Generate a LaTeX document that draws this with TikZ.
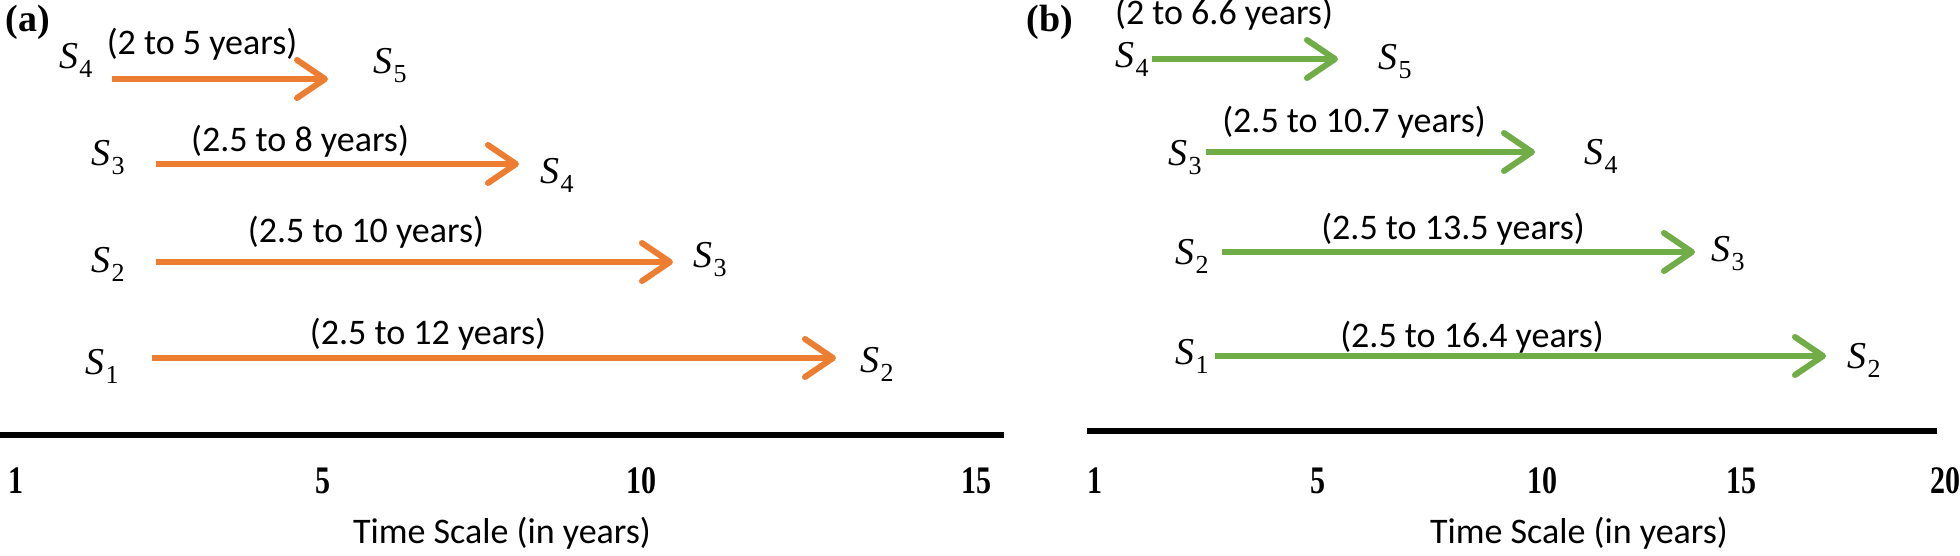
\documentclass[tikz,border=0pt]{standalone}
\usepackage{fontspec}
\usetikzlibrary{arrows.meta}
\newfontfamily\carlito{Carlito}
\newfontfamily\tnr{Liberation Serif}
\definecolor{aorange}{RGB}{237,125,49}
\definecolor{bgreen}{RGB}{112,173,71}
\newcommand{\Ss}[1]{{\tnr\itshape S}\kern1pt\raisebox{-9pt}{\tnr\fontsize{26}{28}\selectfont #1}}
\tikzset{
  lab/.style={inner sep=0pt, font=\fontsize{36}{40}\selectfont\carlito},
  snode/.style={inner sep=0pt, font=\fontsize{38}{40}\selectfont},
  panel/.style={inner sep=0pt, font=\fontsize{38}{42}\selectfont\tnr\bfseries},
  tick/.style={inner sep=0pt, font=\fontsize{30}{34}\selectfont\tnr\bfseries},
  axis/.style={line width=6pt, black},
  tarrow/.style={line width=5.5pt, -{Straight Barb[length=28pt,width=38pt,line width=6pt,round]}},
  oarrow/.style={tarrow, draw=aorange},
  garrow/.style={tarrow, draw=bgreen},
}
\newcommand{\tk}[1]{\scalebox{1}[1.3]{#1}}
\begin{document}
\begin{tikzpicture}[x=1pt,y=-1pt]
\useasboundingbox (0,0) rectangle (1960,555);
% ---------- panel (a)
\node[panel] (pa) at (28,22) {(a)};
\node[snode] (a4s) at (76,60) {\Ss{4}};
\node[lab] (ta4) at (202,44) {(2 to 5 years)};
\coordinate (a4b) at (112,79);
\coordinate (a4e) at (328,79);
\node[snode] (a5e) at (390,66) {\Ss{5}};
\draw[oarrow] (a4b) -- (a4e);

\node[snode] (a3s) at (108,158) {\Ss{3}};
\node[lab] (ta3) at (300,141) {(2.5 to 8 years)};
\coordinate (a3b) at (156,164);
\coordinate (a3e) at (519,164);
\node[snode] (a4e2) at (557,175) {\Ss{4}};
\draw[oarrow] (a3b) -- (a3e);

\node[snode] (a2s) at (108,264) {\Ss{2}};
\node[lab] (ta2) at (366,232) {(2.5 to 10 years)};
\coordinate (a2b) at (156,262);
\coordinate (a2e) at (673,262);
\node[snode] (a3e2) at (710,260) {\Ss{3}};
\draw[oarrow] (a2b) -- (a2e);

\node[snode] (a1s) at (102,366) {\Ss{1}};
\node[lab] (ta1) at (428,334) {(2.5 to 12 years)};
\coordinate (a1b) at (152,358);
\coordinate (a1e) at (836,358);
\node[snode] (a2e2) at (877,364) {\Ss{2}};
\draw[oarrow] (a1b) -- (a1e);

\coordinate (axa1) at (0,435);
\coordinate (axa2) at (1004,435);
\draw[axis] (axa1) -- (axa2);
\node[tick] (ta1t) at (16,481) {\tk{1}};
\node[tick] (ta5t) at (323,481) {\tk{5}};
\node[tick] (ta10t) at (641,481) {\tk{10}};
\node[tick] (ta15t) at (976,481) {\tk{15}};
\node[lab] (tsa) at (502,533) {Time Scale (in years)};

% ---------- panel (b)
\node[panel] (pb) at (1050,22) {(b)};
\node[snode] (b4s) at (1132,59) {\Ss{4}};
\node[lab] (tb4) at (1224,14) {(2 to 6.6 years)};
\coordinate (b4b) at (1152,59);
\coordinate (b4e) at (1338,59);
\node[snode] (b5e) at (1395,62) {\Ss{5}};
\draw[garrow] (b4b) -- (b4e);

\node[snode] (b3s) at (1185,158) {\Ss{3}};
\node[lab] (tb3) at (1354,122) {(2.5 to 10.7 years)};
\coordinate (b3b) at (1206,152);
\coordinate (b3e) at (1535,152);
\node[snode] (b4e2) at (1601,156) {\Ss{4}};
\draw[garrow] (b3b) -- (b3e);

\node[snode] (b2s) at (1192,256) {\Ss{2}};
\node[lab] (tb2) at (1453,229) {(2.5 to 13.5 years)};
\coordinate (b2b) at (1222,252);
\coordinate (b2e) at (1695,252);
\node[snode] (b3e2) at (1728,254) {\Ss{3}};
\draw[garrow] (b2b) -- (b2e);

\node[snode] (b1s) at (1192,356) {\Ss{1}};
\node[lab] (tb1) at (1472,337) {(2.5 to 16.4 years)};
\coordinate (b1b) at (1215,356);
\coordinate (b1e) at (1826,356);
\node[snode] (b2e2) at (1864,360) {\Ss{2}};
\draw[garrow] (b1b) -- (b1e);

\coordinate (axb1) at (1087,431);
\coordinate (axb2) at (1937,431);
\draw[axis] (axb1) -- (axb2);
\node[tick] (tb1t) at (1095,481) {\tk{1}};
\node[tick] (tb5t) at (1318,481) {\tk{5}};
\node[tick] (tb10t) at (1542,481) {\tk{10}};
\node[tick] (tb15t) at (1741,481) {\tk{15}};
\node[tick] (tb20t) at (1945,481) {\tk{20}};
\node[lab] (tsb) at (1579,533) {Time Scale (in years)};
\end{tikzpicture}
\end{document}
